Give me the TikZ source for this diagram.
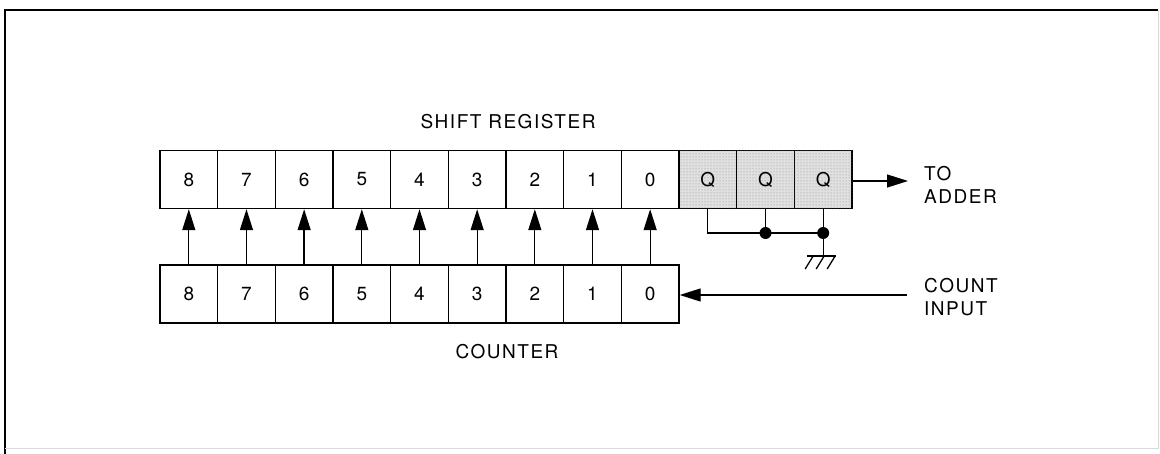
\documentclass[tikz,border=0pt]{standalone}
\usepackage{fontspec}
\setmainfont{TeX Gyre Heros}
\usetikzlibrary{arrows.meta,patterns}
\begin{document}
\begin{tikzpicture}[x=1pt,y=-1pt,
  cell/.style={draw,line width=1.4pt,minimum width=57.7pt,minimum height=58pt,inner sep=0pt,
    font=\fontsize{19}{22}\selectfont},
  qcell/.style={cell,fill=black!12,postaction={pattern=dots,pattern color=black!45}},
  conn/.style={line width=1.3pt},
  arr/.style={conn,-{Triangle[length=21pt,width=13pt]}},
  lab/.style={font=\fontsize{19}{23}\selectfont\addfontfeatures{LetterSpace=8},align=left,inner sep=0pt}]
\useasboundingbox (0,0) rectangle (1160,454);
% frame
\draw[line width=1.3pt] (5,454) -- (5,10) -- (1158,10);
\draw[black!15,line width=0.8pt] (1158,10) -- (1158,448) -- (5,448);
% shift register
\foreach \n [count=\i from 0] in {8,7,6,5,4,3,2,1,0}{
  \node[cell] (s\n) at ({188.8+57.67*\i},179.5) {\n};
  \node[cell] (c\n) at ({188.8+57.67*\i},294) {\n};
}
\foreach \k [count=\i from 9] in {1,2,3}{
  \node[qcell] (q\k) at ({188.8+57.67*\i},179.5) {Q};
}
% titles
\node[lab] (tsr) at (508,122) {SHIFT REGISTER};
\node[lab] (tcn) at (507,352) {COUNTER};
% parallel load arrows
\foreach \n in {8,7,6,5,4,3,2,1,0}{
  \draw[arr] (c\n.north) -- (s\n.south);
}
% output
\coordinate (out) at (908,181);
\draw[arr] (q3.east |- out) -- (out);
\node[lab,anchor=west] (tadd) at (924,185) {TO\\ADDER};
% count input
\coordinate (cin) at (907,295);
\draw[arr] (cin) -- (c0.east |- cin);
\node[lab,anchor=west] (tcin) at (924,297) {COUNT\\INPUT};
% Q connections
\coordinate (j2) at (q2.south |- 0,233);
\coordinate (j3) at (q3.south |- 0,233);
\coordinate (g) at (q3.south |- 0,256);
\draw[conn] (q1.south) |- (j3);
\draw[conn] (q2.south) -- (j2);
\draw[conn] (q3.south) -- (g);
\fill (j2) circle (6);
\fill (j3) circle (6);
% ground
\draw[conn] ([xshift=-16pt]g) -- ([xshift=13pt]g);
\foreach \dx in {-10,1,12}{
  \draw[conn] ([xshift=\dx pt]g) -- ++(-8,13);
}
\end{tikzpicture}
\end{document}
